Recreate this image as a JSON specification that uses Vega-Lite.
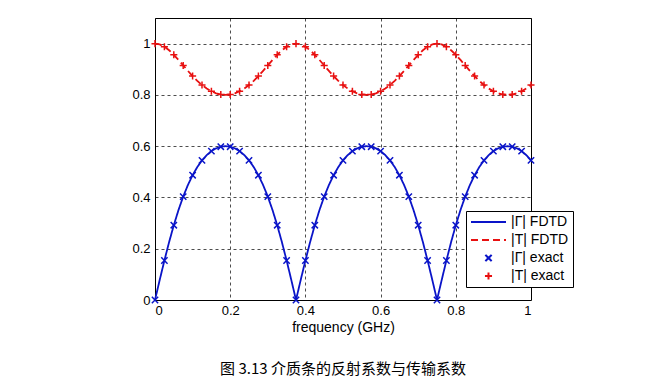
{
  "$schema": "https://vega.github.io/schema/vega-lite/v6.json",
  "width": 376,
  "height": 282,
  "autosize": {"type": "none"},
  "padding": {"left": 155, "top": 18, "right": 124, "bottom": 80},
  "background": "white",
  "config": {
    "font": "Liberation Sans",
    "view": {"stroke": "black", "strokeWidth": 1},
    "axis": {
      "grid": true, "gridColor": "#000000", "gridDash": [3, 3], "gridWidth": 0.7,
      "domain": false, "ticks": false,
      "labelFont": "Liberation Sans", "labelFontSize": 13, "labelColor": "black",
      "titleFont": "Liberation Sans", "titleFontSize": 14, "titleFontWeight": "normal", "titleColor": "black"
    }
  },
  "title": {
    "text": "图 3.13 介质条的反射系数与传输系数",
    "orient": "bottom", "anchor": "middle", "font": "Noto Sans CJK SC",
    "fontSize": 15, "fontWeight": "normal", "color": "black", "offset": 28
  },
  "datasets": {
    "fdtd": [
      {"f": 0, "v": 0, "s": "GF"}, {"f": 0.0125, "v": 0.0782, "s": "GF"}, {"f": 0.025, "v": 0.1541, "s": "GF"}, {"f": 0.0375, "v": 0.2258, "s": "GF"},
      {"f": 0.05, "v": 0.2918, "s": "GF"}, {"f": 0.0625, "v": 0.3511, "s": "GF"}, {"f": 0.075, "v": 0.4034, "s": "GF"}, {"f": 0.0875, "v": 0.4485, "s": "GF"},
      {"f": 0.1, "v": 0.4868, "s": "GF"}, {"f": 0.1125, "v": 0.5187, "s": "GF"}, {"f": 0.125, "v": 0.5447, "s": "GF"}, {"f": 0.1375, "v": 0.5652, "s": "GF"},
      {"f": 0.15, "v": 0.5807, "s": "GF"}, {"f": 0.1625, "v": 0.5915, "s": "GF"}, {"f": 0.175, "v": 0.5979, "s": "GF"}, {"f": 0.1875, "v": 0.6, "s": "GF"},
      {"f": 0.2, "v": 0.5979, "s": "GF"}, {"f": 0.2125, "v": 0.5915, "s": "GF"}, {"f": 0.225, "v": 0.5807, "s": "GF"}, {"f": 0.2375, "v": 0.5652, "s": "GF"},
      {"f": 0.25, "v": 0.5447, "s": "GF"}, {"f": 0.2625, "v": 0.5187, "s": "GF"}, {"f": 0.275, "v": 0.4868, "s": "GF"}, {"f": 0.2875, "v": 0.4485, "s": "GF"},
      {"f": 0.3, "v": 0.4034, "s": "GF"}, {"f": 0.3125, "v": 0.3511, "s": "GF"}, {"f": 0.325, "v": 0.2918, "s": "GF"}, {"f": 0.3375, "v": 0.2258, "s": "GF"},
      {"f": 0.35, "v": 0.1541, "s": "GF"}, {"f": 0.3625, "v": 0.0782, "s": "GF"}, {"f": 0.375, "v": 0, "s": "GF"}, {"f": 0.3875, "v": 0.0782, "s": "GF"},
      {"f": 0.4, "v": 0.1541, "s": "GF"}, {"f": 0.4125, "v": 0.2258, "s": "GF"}, {"f": 0.425, "v": 0.2918, "s": "GF"}, {"f": 0.4375, "v": 0.3511, "s": "GF"},
      {"f": 0.45, "v": 0.4034, "s": "GF"}, {"f": 0.4625, "v": 0.4485, "s": "GF"}, {"f": 0.475, "v": 0.4868, "s": "GF"}, {"f": 0.4875, "v": 0.5187, "s": "GF"},
      {"f": 0.5, "v": 0.5447, "s": "GF"}, {"f": 0.5125, "v": 0.5652, "s": "GF"}, {"f": 0.525, "v": 0.5807, "s": "GF"}, {"f": 0.5375, "v": 0.5915, "s": "GF"},
      {"f": 0.55, "v": 0.5979, "s": "GF"}, {"f": 0.5625, "v": 0.6, "s": "GF"}, {"f": 0.575, "v": 0.5979, "s": "GF"}, {"f": 0.5875, "v": 0.5915, "s": "GF"},
      {"f": 0.6, "v": 0.5807, "s": "GF"}, {"f": 0.6125, "v": 0.5652, "s": "GF"}, {"f": 0.625, "v": 0.5447, "s": "GF"}, {"f": 0.6375, "v": 0.5187, "s": "GF"},
      {"f": 0.65, "v": 0.4868, "s": "GF"}, {"f": 0.6625, "v": 0.4485, "s": "GF"}, {"f": 0.675, "v": 0.4034, "s": "GF"}, {"f": 0.6875, "v": 0.3511, "s": "GF"},
      {"f": 0.7, "v": 0.2918, "s": "GF"}, {"f": 0.7125, "v": 0.2258, "s": "GF"}, {"f": 0.725, "v": 0.1541, "s": "GF"}, {"f": 0.7375, "v": 0.0782, "s": "GF"},
      {"f": 0.75, "v": 0, "s": "GF"}, {"f": 0.7625, "v": 0.0782, "s": "GF"}, {"f": 0.775, "v": 0.1541, "s": "GF"}, {"f": 0.7875, "v": 0.2258, "s": "GF"},
      {"f": 0.8, "v": 0.2918, "s": "GF"}, {"f": 0.8125, "v": 0.3511, "s": "GF"}, {"f": 0.825, "v": 0.4034, "s": "GF"}, {"f": 0.8375, "v": 0.4485, "s": "GF"},
      {"f": 0.85, "v": 0.4868, "s": "GF"}, {"f": 0.8625, "v": 0.5187, "s": "GF"}, {"f": 0.875, "v": 0.5447, "s": "GF"}, {"f": 0.8875, "v": 0.5652, "s": "GF"},
      {"f": 0.9, "v": 0.5807, "s": "GF"}, {"f": 0.9125, "v": 0.5915, "s": "GF"}, {"f": 0.925, "v": 0.5979, "s": "GF"}, {"f": 0.9375, "v": 0.6, "s": "GF"},
      {"f": 0.95, "v": 0.5979, "s": "GF"}, {"f": 0.9625, "v": 0.5915, "s": "GF"}, {"f": 0.975, "v": 0.5807, "s": "GF"}, {"f": 0.9875, "v": 0.5652, "s": "GF"},
      {"f": 1, "v": 0.5447, "s": "GF"},
      {"f": 0, "v": 1, "s": "TF"}, {"f": 0.0125, "v": 0.9969, "s": "TF"}, {"f": 0.025, "v": 0.9881, "s": "TF"}, {"f": 0.0375, "v": 0.9742, "s": "TF"},
      {"f": 0.05, "v": 0.9565, "s": "TF"}, {"f": 0.0625, "v": 0.9363, "s": "TF"}, {"f": 0.075, "v": 0.915, "s": "TF"}, {"f": 0.0875, "v": 0.8938, "s": "TF"},
      {"f": 0.1, "v": 0.8735, "s": "TF"}, {"f": 0.1125, "v": 0.8549, "s": "TF"}, {"f": 0.125, "v": 0.8386, "s": "TF"}, {"f": 0.1375, "v": 0.8249, "s": "TF"},
      {"f": 0.15, "v": 0.8141, "s": "TF"}, {"f": 0.1625, "v": 0.8063, "s": "TF"}, {"f": 0.175, "v": 0.8016, "s": "TF"}, {"f": 0.1875, "v": 0.8, "s": "TF"},
      {"f": 0.2, "v": 0.8016, "s": "TF"}, {"f": 0.2125, "v": 0.8063, "s": "TF"}, {"f": 0.225, "v": 0.8141, "s": "TF"}, {"f": 0.2375, "v": 0.8249, "s": "TF"},
      {"f": 0.25, "v": 0.8386, "s": "TF"}, {"f": 0.2625, "v": 0.8549, "s": "TF"}, {"f": 0.275, "v": 0.8735, "s": "TF"}, {"f": 0.2875, "v": 0.8938, "s": "TF"},
      {"f": 0.3, "v": 0.915, "s": "TF"}, {"f": 0.3125, "v": 0.9363, "s": "TF"}, {"f": 0.325, "v": 0.9565, "s": "TF"}, {"f": 0.3375, "v": 0.9742, "s": "TF"},
      {"f": 0.35, "v": 0.9881, "s": "TF"}, {"f": 0.3625, "v": 0.9969, "s": "TF"}, {"f": 0.375, "v": 1, "s": "TF"}, {"f": 0.3875, "v": 0.9969, "s": "TF"},
      {"f": 0.4, "v": 0.9881, "s": "TF"}, {"f": 0.4125, "v": 0.9742, "s": "TF"}, {"f": 0.425, "v": 0.9565, "s": "TF"}, {"f": 0.4375, "v": 0.9363, "s": "TF"},
      {"f": 0.45, "v": 0.915, "s": "TF"}, {"f": 0.4625, "v": 0.8938, "s": "TF"}, {"f": 0.475, "v": 0.8735, "s": "TF"}, {"f": 0.4875, "v": 0.8549, "s": "TF"},
      {"f": 0.5, "v": 0.8386, "s": "TF"}, {"f": 0.5125, "v": 0.8249, "s": "TF"}, {"f": 0.525, "v": 0.8141, "s": "TF"}, {"f": 0.5375, "v": 0.8063, "s": "TF"},
      {"f": 0.55, "v": 0.8016, "s": "TF"}, {"f": 0.5625, "v": 0.8, "s": "TF"}, {"f": 0.575, "v": 0.8016, "s": "TF"}, {"f": 0.5875, "v": 0.8063, "s": "TF"},
      {"f": 0.6, "v": 0.8141, "s": "TF"}, {"f": 0.6125, "v": 0.8249, "s": "TF"}, {"f": 0.625, "v": 0.8386, "s": "TF"}, {"f": 0.6375, "v": 0.8549, "s": "TF"},
      {"f": 0.65, "v": 0.8735, "s": "TF"}, {"f": 0.6625, "v": 0.8938, "s": "TF"}, {"f": 0.675, "v": 0.915, "s": "TF"}, {"f": 0.6875, "v": 0.9363, "s": "TF"},
      {"f": 0.7, "v": 0.9565, "s": "TF"}, {"f": 0.7125, "v": 0.9742, "s": "TF"}, {"f": 0.725, "v": 0.9881, "s": "TF"}, {"f": 0.7375, "v": 0.9969, "s": "TF"},
      {"f": 0.75, "v": 1, "s": "TF"}, {"f": 0.7625, "v": 0.9969, "s": "TF"}, {"f": 0.775, "v": 0.9881, "s": "TF"}, {"f": 0.7875, "v": 0.9742, "s": "TF"},
      {"f": 0.8, "v": 0.9565, "s": "TF"}, {"f": 0.8125, "v": 0.9363, "s": "TF"}, {"f": 0.825, "v": 0.915, "s": "TF"}, {"f": 0.8375, "v": 0.8938, "s": "TF"},
      {"f": 0.85, "v": 0.8735, "s": "TF"}, {"f": 0.8625, "v": 0.8549, "s": "TF"}, {"f": 0.875, "v": 0.8386, "s": "TF"}, {"f": 0.8875, "v": 0.8249, "s": "TF"},
      {"f": 0.9, "v": 0.8141, "s": "TF"}, {"f": 0.9125, "v": 0.8063, "s": "TF"}, {"f": 0.925, "v": 0.8016, "s": "TF"}, {"f": 0.9375, "v": 0.8, "s": "TF"},
      {"f": 0.95, "v": 0.8016, "s": "TF"}, {"f": 0.9625, "v": 0.8063, "s": "TF"}, {"f": 0.975, "v": 0.8141, "s": "TF"}, {"f": 0.9875, "v": 0.8249, "s": "TF"},
      {"f": 1, "v": 0.8386, "s": "TF"}
    ],
    "exact": [
      {"f": 0, "v": 0, "s": "GE"}, {"f": 0.025, "v": 0.1541, "s": "GE"}, {"f": 0.05, "v": 0.2918, "s": "GE"}, {"f": 0.075, "v": 0.4034, "s": "GE"},
      {"f": 0.1, "v": 0.4868, "s": "GE"}, {"f": 0.125, "v": 0.5447, "s": "GE"}, {"f": 0.15, "v": 0.5807, "s": "GE"}, {"f": 0.175, "v": 0.5979, "s": "GE"},
      {"f": 0.2, "v": 0.5979, "s": "GE"}, {"f": 0.225, "v": 0.5807, "s": "GE"}, {"f": 0.25, "v": 0.5447, "s": "GE"}, {"f": 0.275, "v": 0.4868, "s": "GE"},
      {"f": 0.3, "v": 0.4034, "s": "GE"}, {"f": 0.325, "v": 0.2918, "s": "GE"}, {"f": 0.35, "v": 0.1541, "s": "GE"}, {"f": 0.375, "v": 0, "s": "GE"},
      {"f": 0.4, "v": 0.1541, "s": "GE"}, {"f": 0.425, "v": 0.2918, "s": "GE"}, {"f": 0.45, "v": 0.4034, "s": "GE"}, {"f": 0.475, "v": 0.4868, "s": "GE"},
      {"f": 0.5, "v": 0.5447, "s": "GE"}, {"f": 0.525, "v": 0.5807, "s": "GE"}, {"f": 0.55, "v": 0.5979, "s": "GE"}, {"f": 0.575, "v": 0.5979, "s": "GE"},
      {"f": 0.6, "v": 0.5807, "s": "GE"}, {"f": 0.625, "v": 0.5447, "s": "GE"}, {"f": 0.65, "v": 0.4868, "s": "GE"}, {"f": 0.675, "v": 0.4034, "s": "GE"},
      {"f": 0.7, "v": 0.2918, "s": "GE"}, {"f": 0.725, "v": 0.1541, "s": "GE"}, {"f": 0.75, "v": 0, "s": "GE"}, {"f": 0.775, "v": 0.1541, "s": "GE"},
      {"f": 0.8, "v": 0.2918, "s": "GE"}, {"f": 0.825, "v": 0.4034, "s": "GE"}, {"f": 0.85, "v": 0.4868, "s": "GE"}, {"f": 0.875, "v": 0.5447, "s": "GE"},
      {"f": 0.9, "v": 0.5807, "s": "GE"}, {"f": 0.925, "v": 0.5979, "s": "GE"}, {"f": 0.95, "v": 0.5979, "s": "GE"}, {"f": 0.975, "v": 0.5807, "s": "GE"},
      {"f": 1, "v": 0.5447, "s": "GE"},
      {"f": 0, "v": 1, "s": "TE"}, {"f": 0.025, "v": 0.9881, "s": "TE"}, {"f": 0.05, "v": 0.9565, "s": "TE"}, {"f": 0.075, "v": 0.915, "s": "TE"},
      {"f": 0.1, "v": 0.8735, "s": "TE"}, {"f": 0.125, "v": 0.8386, "s": "TE"}, {"f": 0.15, "v": 0.8141, "s": "TE"}, {"f": 0.175, "v": 0.8016, "s": "TE"},
      {"f": 0.2, "v": 0.8016, "s": "TE"}, {"f": 0.225, "v": 0.8141, "s": "TE"}, {"f": 0.25, "v": 0.8386, "s": "TE"}, {"f": 0.275, "v": 0.8735, "s": "TE"},
      {"f": 0.3, "v": 0.915, "s": "TE"}, {"f": 0.325, "v": 0.9565, "s": "TE"}, {"f": 0.35, "v": 0.9881, "s": "TE"}, {"f": 0.375, "v": 1, "s": "TE"},
      {"f": 0.4, "v": 0.9881, "s": "TE"}, {"f": 0.425, "v": 0.9565, "s": "TE"}, {"f": 0.45, "v": 0.915, "s": "TE"}, {"f": 0.475, "v": 0.8735, "s": "TE"},
      {"f": 0.5, "v": 0.8386, "s": "TE"}, {"f": 0.525, "v": 0.8141, "s": "TE"}, {"f": 0.55, "v": 0.8016, "s": "TE"}, {"f": 0.575, "v": 0.8016, "s": "TE"},
      {"f": 0.6, "v": 0.8141, "s": "TE"}, {"f": 0.625, "v": 0.8386, "s": "TE"}, {"f": 0.65, "v": 0.8735, "s": "TE"}, {"f": 0.675, "v": 0.915, "s": "TE"},
      {"f": 0.7, "v": 0.9565, "s": "TE"}, {"f": 0.725, "v": 0.9881, "s": "TE"}, {"f": 0.75, "v": 1, "s": "TE"}, {"f": 0.775, "v": 0.9881, "s": "TE"},
      {"f": 0.8, "v": 0.9565, "s": "TE"}, {"f": 0.825, "v": 0.915, "s": "TE"}, {"f": 0.85, "v": 0.8735, "s": "TE"}, {"f": 0.875, "v": 0.8386, "s": "TE"},
      {"f": 0.9, "v": 0.8141, "s": "TE"}, {"f": 0.925, "v": 0.8016, "s": "TE"}, {"f": 0.95, "v": 0.8016, "s": "TE"}, {"f": 0.975, "v": 0.8141, "s": "TE"},
      {"f": 1, "v": 0.8386, "s": "TE"}
    ]
  },
  "layer": [
    {
      "data": {"name": "fdtd"},
      "mark": {"type": "line", "strokeWidth": 1.8},
      "encoding": {
        "x": {
          "field": "f", "type": "quantitative",
          "scale": {"domain": [0, 1], "nice": false},
          "axis": {"values": [0, 0.2, 0.4, 0.6, 0.8, 1], "format": "~g", "title": "frequency (GHz)", "labelPadding": 4, "titlePadding": 3}
        },
        "y": {
          "field": "v", "type": "quantitative",
          "scale": {"domain": [0, 1.1], "nice": false},
          "axis": {"values": [0, 0.2, 0.4, 0.6, 0.8, 1], "format": "~g", "title": null, "labelPadding": 5}
        },
        "color": {
          "field": "s", "type": "nominal",
          "scale": {
            "domain": ["GF", "TF", "GE", "TE"],
            "range": ["#0a14c8", "#e81010", "#0a14c8", "#e81010"]
          },
          "legend": {
            "title": null, "orient": "none", "legendX": 311, "legendY": 193,
            "direction": "vertical",
            "strokeColor": "black", "fillColor": "white", "padding": 4,
            "clipHeight": 14, "rowPadding": 4, "labelOffset": 4,
            "labelFont": "Liberation Sans", "labelFontSize": 14, "labelColor": "black",
            "symbolStrokeWidth": 2,
            "labelExpr": "datum.label == 'GF' ? '|Γ| FDTD' : (datum.label == 'TF' ? '|T| FDTD' : (datum.label == 'GE' ? '|Γ| exact' : '|T| exact'))"
          }
        },
        "strokeDash": {
          "field": "s", "type": "nominal",
          "scale": {"domain": ["GF", "TF", "GE", "TE"], "range": [[1, 0], [7, 4], [1, 0], [1, 0]]}
        }
      }
    },
    {
      "data": {"name": "exact"},
      "mark": {"type": "point", "filled": false, "strokeWidth": 1.5, "opacity": 1},
      "encoding": {
        "x": {"field": "f", "type": "quantitative"},
        "y": {"field": "v", "type": "quantitative"},
        "color": {"field": "s", "type": "nominal"},
        "shape": {
          "field": "s", "type": "nominal",
          "scale": {"domain": ["GF", "TF", "GE", "TE"], "range": ["stroke", "stroke", "M-1,-1L1,1M-1,1L1,-1", "M-1,0L1,0M0,-1L0,1"]}
        },
        "size": {
          "field": "s", "type": "nominal",
          "scale": {"type": "ordinal", "domain": ["GF", "TF", "GE", "TE"], "range": [1225, 1225, 40, 50]}
        }
      }
    }
  ]
}
